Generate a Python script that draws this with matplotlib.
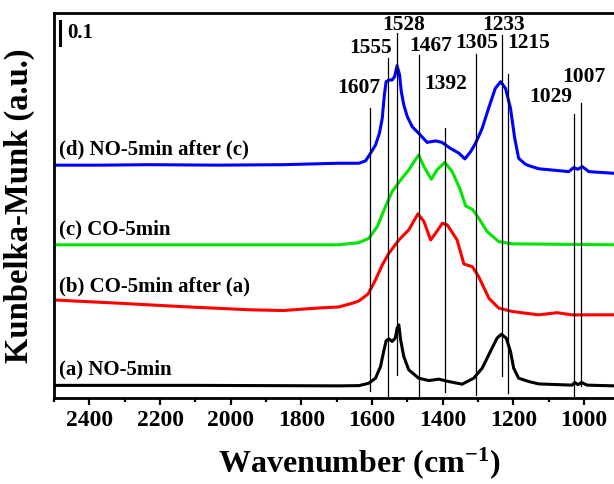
import matplotlib
matplotlib.use("Agg")
import matplotlib.pyplot as plt
from matplotlib.ticker import MultipleLocator

plt.rcParams['font.family'] = ['Liberation Serif', 'DejaVu Serif']
plt.rcParams['font.weight'] = 'bold'
plt.rcParams['axes.labelweight'] = 'bold'
plt.rcParams['mathtext.default'] = 'regular'

# (a) NO-5min
wn_a = [2500, 2300, 2100, 1900, 1694, 1637, 1609, 1590, 1576, 1567, 1560, 1552, 1543, 1534,
        1529, 1524, 1519, 1510, 1496, 1468, 1439, 1411, 1383, 1345, 1312, 1288, 1265, 1246,
        1234, 1220, 1208, 1199, 1185, 1156, 1128, 1034, 1026, 1017, 1007, 991, 915]
km_a = [0.052, 0.052, 0.052, 0.051, 0.050, 0.051, 0.061, 0.082, 0.130, 0.193, 0.238, 0.246, 0.235, 0.249,
        0.290, 0.304, 0.242, 0.172, 0.117, 0.082, 0.072, 0.078, 0.068, 0.057, 0.082, 0.124, 0.193, 0.249,
        0.265, 0.249, 0.193, 0.124, 0.082, 0.068, 0.058, 0.053, 0.064, 0.055, 0.064, 0.053, 0.050]

# (b) CO-5min after (a)
wn_b = [2500, 2323, 2134, 1945, 1851, 1757, 1694, 1654, 1637, 1611, 1590, 1571, 1552,
        1524, 1496, 1470, 1453, 1434, 1420, 1401, 1387, 1359, 1340, 1316, 1298, 1269,
        1241, 1203, 1128, 1076, 1034, 915]
km_b = [0.408, 0.395, 0.380, 0.367, 0.364, 0.374, 0.379, 0.395, 0.404, 0.433, 0.492, 0.554, 0.603,
        0.658, 0.700, 0.767, 0.735, 0.658, 0.686, 0.728, 0.721, 0.658, 0.558, 0.547, 0.505, 0.415,
        0.374, 0.360, 0.346, 0.355, 0.346, 0.346]

# (c) CO-5min
wn_c = [2500, 2040, 1694, 1637, 1609, 1585, 1562, 1543, 1519, 1496, 1468, 1453, 1432,
        1416, 1394, 1373, 1350, 1335, 1316, 1298, 1274, 1241, 1203, 915]
km_c = [0.638, 0.638, 0.638, 0.647, 0.665, 0.714, 0.797, 0.860, 0.908, 0.950, 1.013, 0.964, 0.911,
        0.950, 0.982, 0.943, 0.867, 0.800, 0.786, 0.749, 0.693, 0.651, 0.642, 0.638]

# (d) NO-5min after (c)
wn_d = [2500, 2370, 2228, 2040, 1851, 1694, 1637, 1618, 1604, 1590, 1579, 1571, 1565, 1560,
        1552, 1543, 1536, 1529, 1522, 1517, 1510, 1500, 1486, 1468, 1444, 1420, 1402, 1378,
        1354, 1337, 1321, 1307, 1288, 1270, 1251, 1236, 1222, 1208, 1196, 1185, 1166, 1156,
        1128, 1043, 1029, 1017, 1005, 986, 915]
km_d = [0.970, 0.970, 0.972, 0.970, 0.972, 0.978, 0.978, 0.988, 1.020, 1.054, 1.103, 1.165, 1.263, 1.318,
        1.325, 1.325, 1.339, 1.385, 1.346, 1.276, 1.221, 1.172, 1.130, 1.103, 1.065, 1.071, 1.065, 1.040,
        1.020, 0.996, 1.026, 1.061, 1.124, 1.207, 1.290, 1.318, 1.290, 1.207, 1.082, 0.999, 0.974, 0.968,
        0.955, 0.943, 0.960, 0.953, 0.964, 0.943, 0.936]

# marked bands: position, line bottom/top, label position
peaks = [1607, 1555, 1528, 1467, 1392, 1305, 1233, 1215, 1029, 1007]
peak_bottom = [0.030, 0.0, 0.096, 0.0, 0.026, 0.012, 0.092, 0.022, 0.0, 0.050]
peak_top = [1.208, 1.417, 1.521, 1.429, 1.125, 1.433, 1.512, 1.350, 1.183, 1.229]
label_x = [1637, 1603, 1510, 1435, 1392, 1303, 1228, 1156, 1095, 1000]
label_y = [1.292, 1.458, 1.554, 1.467, 1.308, 1.479, 1.554, 1.479, 1.254, 1.338]

curve_names = ['(a) NO-5min', '(b) CO-5min after (a)', '(c) CO-5min', '(d) NO-5min after (c)']
name_y = [0.096, 0.443, 0.679, 1.0125]

fig = plt.figure(figsize=(6.14, 4.84), dpi=100)
ax = fig.add_axes([0.088, 0.178, 0.912, 0.795])

ax.plot(wn_a, km_a, color='black', lw=2.2)
ax.plot(wn_b, km_b, color='#ff0000', lw=2.2)
ax.plot(wn_c, km_c, color='#00e600', lw=2.2)
ax.plot(wn_d, km_d, color='#0000ff', lw=2.2)

for p, b, t in zip(peaks, peak_bottom, peak_top):
    ax.plot([p, p], [b, t], color='black', lw=0.9)
for p, lx, ly in zip(peaks, label_x, label_y):
    ax.text(lx, ly, str(p), ha='center', va='center', fontsize=15.5)

for name, ny in zip(curve_names, name_y):
    ax.text(2485, ny, name, ha='left', va='baseline', fontsize=15)

# scale bar
ax.plot([2483, 2483], [1.471, 1.571], color='black', lw=2.2)
ax.text(2462, 1.52, '0.1', ha='left', va='center', fontsize=15)

ax.set_xlim(2500, 915)
ax.set_ylim(0, 1.604)
ax.spines['right'].set_visible(False)
for s in ['left', 'top', 'bottom']:
    ax.spines[s].set_linewidth(2.0)
ax.set_yticks([])
ax.xaxis.set_major_locator(MultipleLocator(200))
ax.xaxis.set_minor_locator(MultipleLocator(100))
ax.tick_params(axis='x', which='major', direction='out', length=5, width=1.6,
               labelsize=17, pad=4)
ax.tick_params(axis='x', which='minor', direction='out', length=3, width=1.6)

ax.set_xlabel('Wavenumber (cm$^{-1}$)', fontsize=23)
ax.xaxis.set_label_coords(0.545, -0.122)
ax.set_ylabel('Kunbelka-Munk (a.u.)', fontsize=23.5)
ax.yaxis.set_label_coords(-0.034, 0.5)

fig.savefig('out.png', dpi=100)
